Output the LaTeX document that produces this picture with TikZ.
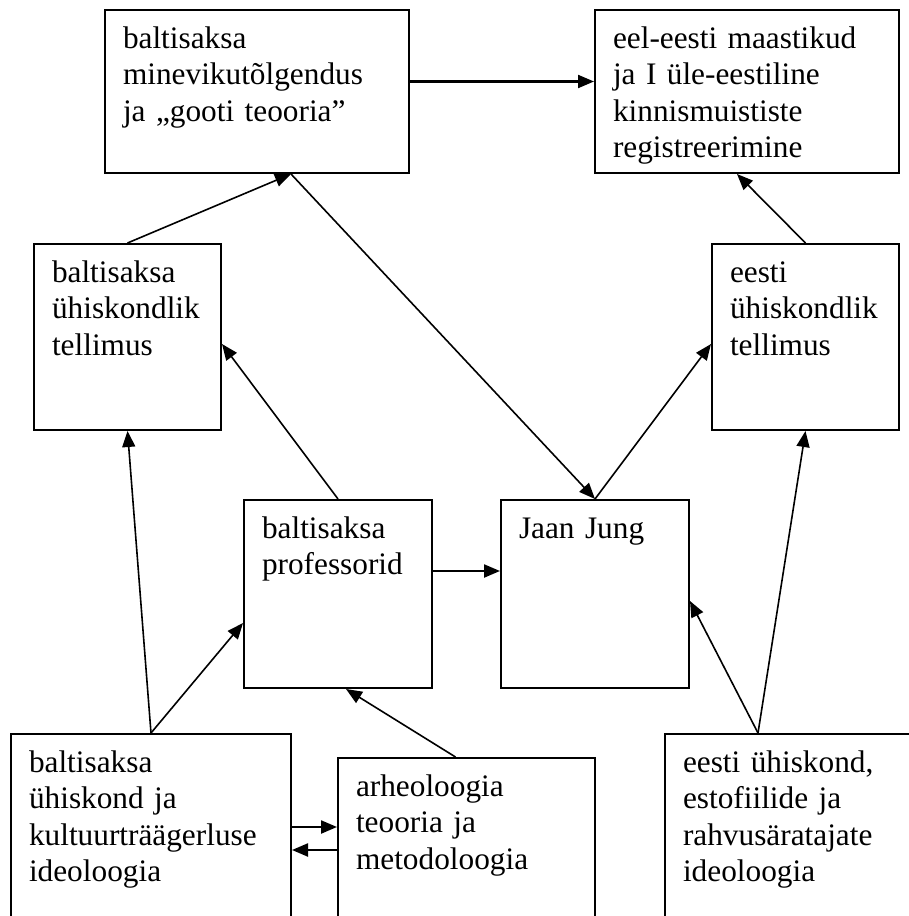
\documentclass[tikz,border=0pt]{standalone}
\usepackage{fontspec}
\setmainfont{Liberation Serif}
\usetikzlibrary{arrows.meta,calc}

\begin{document}
\begin{tikzpicture}[
  x=1pt, y=-1pt,
  box/.style={draw, line width=2pt, anchor=north west, align=left,
    inner xsep=18pt, inner ysep=0pt, text height=38pt,
    font={\fontsize{31.3}{36.6}\selectfont}},
  link/.style={line width=1.6pt, -{Triangle[length=16pt, width=13pt]}},
  flat/.style={link, line width=2.2pt}
]
\useasboundingbox (0,0) rectangle (909,916);

% top row
\node[box, text width=268pt, text depth=125pt] (A) at (104,9)
  {baltisaksa\\minevikutõlgendus\\ja „gooti teooria”};
\node[box, text width=268pt, text depth=125pt] (B) at (594,9)
  {eel-eesti maastikud\\ja I üle-eestiline\\kinnismuististe\\registreerimine};

% tellimus
\node[box, text width=151pt, text depth=148pt] (C) at (33,243)
  {baltisaksa\\ühiskondlik\\tellimus};
\node[box, text width=151pt, text depth=148pt] (D) at (711,243)
  {eesti\\ühiskondlik\\tellimus};

% middle
\node[box, text width=152pt, text depth=150pt] (E) at (243,499)
  {baltisaksa\\professorid};
\node[box, text width=152pt, text depth=150pt] (F) at (500,499)
  {Jaan Jung};

% bottom row (cut by the page edge)
\node[box, text width=244pt, text depth=230pt] (G) at (10,733)
  {baltisaksa\\ühiskond ja\\kultuurträägerluse\\ideoloogia};
\node[box, text width=221pt, text depth=230pt] (H) at (337,757)
  {arheoloogia\\teooria ja\\metodoloogia};
\node[box, text width=264pt, text depth=230pt] (I) at (664,733)
  {eesti ühiskond,\\estofiilide ja\\rahvusäratajate\\ideoloogia};

\coordinate (Abot) at ([xshift=34pt]A.south);
\coordinate (Itop) at ([xshift=94pt]I.north west);

\draw[flat] ([yshift=10pt]A.east) -- ([yshift=10pt]B.west);
\draw[link] (C.north) -- (Abot);
\draw[link] (Abot) -- (F.north);
\draw[link] (F.north) -- ([yshift=-7pt]D.west);
\draw[link] (D.north) -- ([xshift=-10pt]B.south);
\draw[link] (E.north) -- ([yshift=-7pt]C.east);
\draw[flat] ([yshift=23pt]E.east) -- ([yshift=23pt]F.west);
\draw[link] (G.north) -- (C.south);
\draw[link] (G.north) -- ([yshift=-29pt]E.west);
\draw[link] ([xshift=-11pt]H.north) -- ([xshift=8pt]E.south);
\draw[flat] ($(G.north east)+(0,94)$) -- ($(H.north west)+(0,70)$);
\draw[flat] ($(H.north west)+(0,93)$) -- ($(G.north east)+(0,117)$);
\draw[link] (Itop) -- (D.south);
\draw[link] (Itop) -- ([yshift=-7pt]F.east);

\end{tikzpicture}
\end{document}
